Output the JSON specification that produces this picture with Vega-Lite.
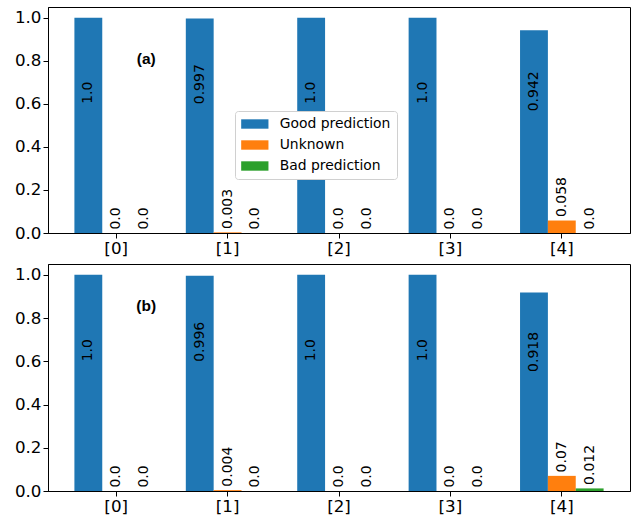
{
  "$schema": "https://vega.github.io/schema/vega-lite/v6.json",
  "padding": {"left": 13, "top": 6, "right": 7, "bottom": 2},
  "background": "white",
  "spacing": 5,
  "config": {
    "font": "DejaVu Sans",
    "view": {"stroke": "black", "strokeWidth": 1},
    "axis": {
      "domainColor": "black", "tickColor": "black", "labelColor": "black",
      "labelFont": "DejaVu Sans", "labelFontSize": 16.7, "tickSize": 5,
      "labelPadding": 2, "grid": false, "title": null, "domainWidth": 1, "tickWidth": 1
    },
    "legend": {
      "labelFont": "DejaVu Sans", "labelFontSize": 13.9, "labelColor": "black"
    }
  },
  "data": {"values": [
    {"panel": "a", "cat": "[0]", "series": "Good prediction", "value": 1.0},
    {"panel": "a", "cat": "[1]", "series": "Good prediction", "value": 0.997},
    {"panel": "a", "cat": "[2]", "series": "Good prediction", "value": 1.0},
    {"panel": "a", "cat": "[3]", "series": "Good prediction", "value": 1.0},
    {"panel": "a", "cat": "[4]", "series": "Good prediction", "value": 0.942},
    {"panel": "a", "cat": "[0]", "series": "Unknown", "value": 0.0},
    {"panel": "a", "cat": "[1]", "series": "Unknown", "value": 0.003},
    {"panel": "a", "cat": "[2]", "series": "Unknown", "value": 0.0},
    {"panel": "a", "cat": "[3]", "series": "Unknown", "value": 0.0},
    {"panel": "a", "cat": "[4]", "series": "Unknown", "value": 0.058},
    {"panel": "a", "cat": "[0]", "series": "Bad prediction", "value": 0.0},
    {"panel": "a", "cat": "[1]", "series": "Bad prediction", "value": 0.0},
    {"panel": "a", "cat": "[2]", "series": "Bad prediction", "value": 0.0},
    {"panel": "a", "cat": "[3]", "series": "Bad prediction", "value": 0.0},
    {"panel": "a", "cat": "[4]", "series": "Bad prediction", "value": 0.0},
    {"panel": "b", "cat": "[0]", "series": "Good prediction", "value": 1.0},
    {"panel": "b", "cat": "[1]", "series": "Good prediction", "value": 0.996},
    {"panel": "b", "cat": "[2]", "series": "Good prediction", "value": 1.0},
    {"panel": "b", "cat": "[3]", "series": "Good prediction", "value": 1.0},
    {"panel": "b", "cat": "[4]", "series": "Good prediction", "value": 0.918},
    {"panel": "b", "cat": "[0]", "series": "Unknown", "value": 0.0},
    {"panel": "b", "cat": "[1]", "series": "Unknown", "value": 0.004},
    {"panel": "b", "cat": "[2]", "series": "Unknown", "value": 0.0},
    {"panel": "b", "cat": "[3]", "series": "Unknown", "value": 0.0},
    {"panel": "b", "cat": "[4]", "series": "Unknown", "value": 0.07},
    {"panel": "b", "cat": "[0]", "series": "Bad prediction", "value": 0.0},
    {"panel": "b", "cat": "[1]", "series": "Bad prediction", "value": 0.0},
    {"panel": "b", "cat": "[2]", "series": "Bad prediction", "value": 0.0},
    {"panel": "b", "cat": "[3]", "series": "Bad prediction", "value": 0.0},
    {"panel": "b", "cat": "[4]", "series": "Bad prediction", "value": 0.012}
  ]},
  "transform": [
    {"calculate": "datum.value == floor(datum.value) ? format(datum.value, '.1f') : toString(datum.value)", "as": "label"},
    {"calculate": "datum.value > 0.5 ? datum.value * 0.6 : datum.value + 0.016", "as": "labelY"}
  ],
  "resolve": {"legend": {"color": "independent"}},
  "vconcat": [
    {
      "width": 582, "height": 226,
      "transform": [{"filter": "datum.panel == 'a'"}],
      "layer": [
        {
          "mark": {"type": "bar"},
          "encoding": {
            "x": {"field": "cat", "type": "nominal", "sort": null,
                  "scale": {"paddingInner": 0.25, "paddingOuter": 0.237},
                  "axis": {"labelAngle": 0}},
            "xOffset": {"field": "series", "type": "nominal",
                        "scale": {"domain": ["Good prediction", "Unknown", "Bad prediction"], "paddingInner": 0, "paddingOuter": 0}},
            "y": {"field": "value", "type": "quantitative",
                  "scale": {"domain": [0, 1.05], "nice": false, "zero": true},
                  "axis": {"values": [0, 0.2, 0.4, 0.6, 0.8, 1.0], "format": ".1f"}},
            "color": {"field": "series", "type": "nominal",
                      "scale": {"domain": ["Good prediction", "Unknown", "Bad prediction"], "range": ["#1f77b4", "#ff7f0e", "#2ca02c"]},
                      "legend": {"orient": "none", "legendX": 187, "legendY": 104, "title": null,
                                 "fillColor": "white", "strokeColor": "#d0d0d0", "cornerRadius": 3,
                                 "padding": 6, "rowPadding": 7, "labelOffset": 24.7,
                                 "symbolType": "M-1,-0.688L3,-0.688L3,0.688L-1,0.688Z", "symbolSize": 186,
                                 "symbolStrokeWidth": 0, "symbolOpacity": 1}}
          }
        },
        {
          "mark": {"type": "text", "angle": 270, "align": "left", "baseline": "middle", "fontSize": 14, "color": "black", "font": "DejaVu Sans"},
          "encoding": {
            "x": {"field": "cat", "type": "nominal", "sort": null},
            "xOffset": {"field": "series", "type": "nominal"},
            "y": {"field": "labelY", "type": "quantitative"},
            "text": {"field": "label"}
          }
        },
        {
          "data": {"values": [{"tag": "(a)"}]},
          "mark": {"type": "text", "font": "Liberation Sans", "fontWeight": "bold", "fontSize": 15.5, "dx": 30, "baseline": "middle", "align": "center", "color": "black"},
          "encoding": {
            "x": {"datum": "[0]", "type": "nominal"},
            "y": {"datum": 0.81, "type": "quantitative"},
            "text": {"field": "tag"}
          }
        }
      ]
    },
    {
      "width": 582, "height": 227,
      "transform": [{"filter": "datum.panel == 'b'"}],
      "layer": [
        {
          "mark": {"type": "bar"},
          "encoding": {
            "x": {"field": "cat", "type": "nominal", "sort": null,
                  "scale": {"paddingInner": 0.25, "paddingOuter": 0.237},
                  "axis": {"labelAngle": 0}},
            "xOffset": {"field": "series", "type": "nominal",
                        "scale": {"domain": ["Good prediction", "Unknown", "Bad prediction"], "paddingInner": 0, "paddingOuter": 0}},
            "y": {"field": "value", "type": "quantitative",
                  "scale": {"domain": [0, 1.05], "nice": false, "zero": true},
                  "axis": {"values": [0, 0.2, 0.4, 0.6, 0.8, 1.0], "format": ".1f"}},
            "color": {"field": "series", "type": "nominal",
                      "scale": {"domain": ["Good prediction", "Unknown", "Bad prediction"], "range": ["#1f77b4", "#ff7f0e", "#2ca02c"]},
                      "legend": null}
          }
        },
        {
          "mark": {"type": "text", "angle": 270, "align": "left", "baseline": "middle", "fontSize": 14, "color": "black", "font": "DejaVu Sans"},
          "encoding": {
            "x": {"field": "cat", "type": "nominal", "sort": null},
            "xOffset": {"field": "series", "type": "nominal"},
            "y": {"field": "labelY", "type": "quantitative"},
            "text": {"field": "label"}
          }
        },
        {
          "data": {"values": [{"tag": "(b)"}]},
          "mark": {"type": "text", "font": "Liberation Sans", "fontWeight": "bold", "fontSize": 15.5, "dx": 30, "baseline": "middle", "align": "center", "color": "black"},
          "encoding": {
            "x": {"datum": "[0]", "type": "nominal"},
            "y": {"datum": 0.857, "type": "quantitative"},
            "text": {"field": "tag"}
          }
        }
      ]
    }
  ]
}
